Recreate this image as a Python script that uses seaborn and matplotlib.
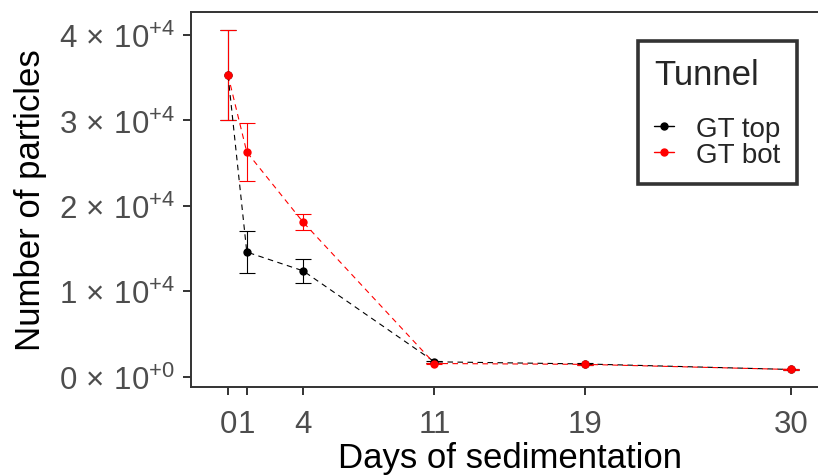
import matplotlib
matplotlib.use("Agg")
import matplotlib.pyplot as plt
from matplotlib.lines import Line2D
import seaborn as sns
import pandas as pd

# values
days = [0, 1, 4, 11, 19, 30]
gt_top = [35300, 14600, 12400, 1750, 1500, 850]
gt_top_sd = [5300, 2500, 1400, 100, 80, 80]
gt_bot = [35300, 26300, 18100, 1550, 1450, 850]
gt_bot_sd = [5300, 3400, 950, 100, 80, 80]
groups = ["GT top", "GT bot"]
colors = {"GT top": "black", "GT bot": "red"}
yticks = [0, 10000, 20000, 30000, 40000]
ytick_labels = [r"$0\,\times\,10^{+0}$", r"$1\,\times\,10^{+4}$", r"$2\,\times\,10^{+4}$",
                r"$3\,\times\,10^{+4}$", r"$4\,\times\,10^{+4}$"]

df = pd.DataFrame({
    "day": days * 2,
    "n": gt_top + gt_bot,
    "sd": gt_top_sd + gt_bot_sd,
    "Tunnel": ["GT top"] * len(days) + ["GT bot"] * len(days),
})

sns.set_style("white")
plt.rcParams["font.family"] = ["Liberation Sans", "DejaVu Sans"]
plt.rcParams["mathtext.fontset"] = "custom"
plt.rcParams["mathtext.rm"] = "Liberation Sans"
plt.rcParams["mathtext.it"] = "Liberation Sans:italic"
plt.rcParams["mathtext.bf"] = "Liberation Sans:bold"

fig = plt.figure(figsize=(8.18, 4.77), dpi=100)
ax = fig.add_axes([190.5 / 818, 1 - 388 / 477, 638 / 818, 375 / 477])

# error bars first, then the dashed lines with points
for g in groups:
    sub = df[df["Tunnel"] == g]
    ax.errorbar(sub["day"], sub["n"], yerr=sub["sd"], fmt="none",
                ecolor=colors[g], elinewidth=0.8, capsize=6, capthick=0.8, zorder=1.5)

sns.lineplot(data=df, x="day", y="n", hue="Tunnel", style="Tunnel",
             palette=colors, hue_order=groups, style_order=groups,
             dashes={"GT top": (5, 4), "GT bot": (5, 4)},
             markers={"GT top": "o", "GT bot": "o"},
             markersize=6, markeredgewidth=0, linewidth=0.8,
             legend=False, ax=ax, zorder=2)

ax.set_xlim(-2, 32)
ax.set_ylim(-1200, 42700)
ax.set_xticks(days)
ax.set_xticklabels([str(d) for d in days])
ax.set_yticks(yticks)
ax.set_yticklabels(ytick_labels)

for side in ["left", "bottom", "top"]:
    ax.spines[side].set_visible(True)
    ax.spines[side].set_color("#333333")
    ax.spines[side].set_linewidth(1.4)
ax.spines["right"].set_visible(False)

ax.tick_params(axis="both", which="major", length=6, width=1.4, color="#333333",
               labelsize=22.5, labelcolor="#4D4D4D", direction="out",
               left=True, bottom=True)
ax.tick_params(axis="x", pad=10)
ax.tick_params(axis="y", pad=5)

ax.set_xlabel("Days of sedimentation", fontsize=25, color="black", labelpad=1)
ax.set_ylabel("Number of particles", fontsize=25, color="black", labelpad=9)

handles = [Line2D([], [], color=colors[g], marker="o", markersize=5, lw=1.0) for g in groups]
leg = ax.legend(handles, groups, title="Tunnel", loc="upper right",
                bbox_to_anchor=(797 / 818, 1 - 42 / 477), bbox_transform=fig.transFigure,
                borderaxespad=0, fontsize=20, title_fontsize=25, frameon=True,
                fancybox=False, edgecolor="black", handlelength=0.7,
                handletextpad=0.8, labelspacing=0.0, borderpad=0.6,
                alignment="left")
leg.get_frame().set_linewidth(2.6)
leg._legend_box.sep = 18

fig.savefig("out.png", dpi=100)
